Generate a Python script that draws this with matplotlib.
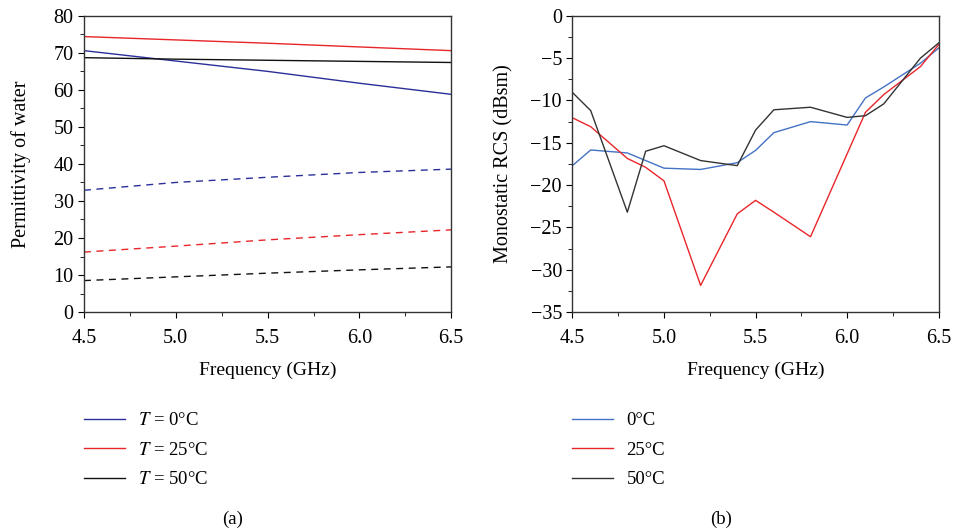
import matplotlib
matplotlib.use("Agg")
import matplotlib.pyplot as plt
from matplotlib.ticker import MultipleLocator

plt.rcParams['font.family'] = ['Liberation Serif', 'DejaVu Serif']
plt.rcParams['mathtext.fontset'] = 'stix'
plt.rcParams['font.size'] = 12

# (a) permittivity of water vs frequency
freq_a = [4.5, 5.0, 5.5, 6.0, 6.5]
re_0 = [70.6, 67.8, 65.0, 61.8, 58.8]
re_25 = [74.4, 73.5, 72.6, 71.6, 70.6]
re_50 = [68.7, 68.3, 68.0, 67.7, 67.4]
im_0 = [32.9, 35.0, 36.4, 37.7, 38.6]
im_25 = [16.2, 17.8, 19.5, 20.9, 22.2]
im_50 = [8.5, 9.5, 10.5, 11.4, 12.2]

# (b) monostatic RCS
freq_b = [4.5, 4.6, 4.8, 4.9, 5.0, 5.2, 5.4, 5.5, 5.6, 5.8, 6.0, 6.1, 6.2, 6.4, 6.5]
rcs_0 = [-17.7, -15.85, -16.2, -17.1, -18.0, -18.15, -17.35, -15.9, -13.8, -12.5, -12.9, -9.7, -8.4, -5.6, -3.8]
rcs_25 = [-12.05, -13.1, -16.85, -17.9, -19.5, -31.85, -23.4, -21.8, -23.2, -26.1, -16.3, -11.4, -9.3, -6.0, -3.4]
rcs_50 = [-9.05, -11.2, -23.2, -16.0, -15.35, -17.1, -17.7, -13.5, -11.1, -10.8, -12.0, -11.8, -10.4, -5.0, -3.2]

labels_a = ['$T$ = 0°C', '$T$ = 25°C', '$T$ = 50°C']
labels_b = ['0°C', '25°C', '50°C']

blue_a, red, black_a = '#2b2f9a', '#e8262a', '#111111'
blue_b, black_b = '#4472c4', '#333333'

fig = plt.figure(figsize=(9.54, 5.28), dpi=100)
ax1 = fig.add_axes([0.088, 0.409, 0.385, 0.561])
ax2 = fig.add_axes([0.600, 0.409, 0.384, 0.561])

h = []
h += ax1.plot(freq_a, re_0, color=blue_a, lw=1)
h += ax1.plot(freq_a, re_25, color=red, lw=1)
h += ax1.plot(freq_a, re_50, color=black_a, lw=1)
ax1.plot(freq_a, im_0, color=blue_a, lw=1, ls=(0, (5, 4)))
ax1.plot(freq_a, im_25, color=red, lw=1, ls=(0, (5, 4)))
ax1.plot(freq_a, im_50, color=black_a, lw=1, ls=(0, (5, 4)))
ax1.set_xlim(4.5, 6.5)
ax1.set_ylim(0, 80)
ax1.yaxis.set_major_locator(MultipleLocator(10))
ax1.yaxis.set_minor_locator(MultipleLocator(5))
ax1.set_ylabel('Permittivity of water', fontsize=14.5, labelpad=16)

h2 = []
h2 += ax2.plot(freq_b, rcs_0, color=blue_b, lw=1)
h2 += ax2.plot(freq_b, rcs_25, color=red, lw=1)
h2 += ax2.plot(freq_b, rcs_50, color=black_b, lw=1)
ax2.set_xlim(4.5, 6.5)
ax2.set_ylim(-35, 0)
ax2.yaxis.set_major_locator(MultipleLocator(5))
ax2.yaxis.set_minor_locator(MultipleLocator(2.5))
ax2.set_ylabel('Monostatic RCS (dBsm)', fontsize=14.5, labelpad=12)

for ax in (ax1, ax2):
    ax.xaxis.set_major_locator(MultipleLocator(0.5))
    ax.xaxis.set_minor_locator(MultipleLocator(0.25))
    ax.set_xlabel('Frequency (GHz)', fontsize=14, labelpad=10)
    ax.tick_params(which='both', direction='out', top=False, right=False, labelsize=14.5)
    ax.tick_params(axis='x', which='major', pad=8)
    ax.tick_params(which='major', length=4)
    ax.tick_params(which='minor', length=3)
    ax.xaxis.set_major_formatter(matplotlib.ticker.FormatStrFormatter('%.1f'))
    for s in ax.spines.values():
        s.set_linewidth(1.0)
        s.set_color('#333333')

leg_kw = dict(loc='upper left', frameon=False, fontsize=13.5, handlelength=2.2,
              labelspacing=0.66, handletextpad=0.7, borderpad=0, borderaxespad=0)
fig.legend(h, labels_a, bbox_to_anchor=(84 / 954, 1 - 412 / 528), **leg_kw)
fig.legend(h2, labels_b, bbox_to_anchor=(572 / 954, 1 - 412 / 528), **leg_kw)
fig.text(233 / 954, 0.008, '(a)', ha='center', fontsize=13.5)
fig.text(721 / 954, 0.008, '(b)', ha='center', fontsize=13.5)

fig.savefig('out.png', dpi=100)
